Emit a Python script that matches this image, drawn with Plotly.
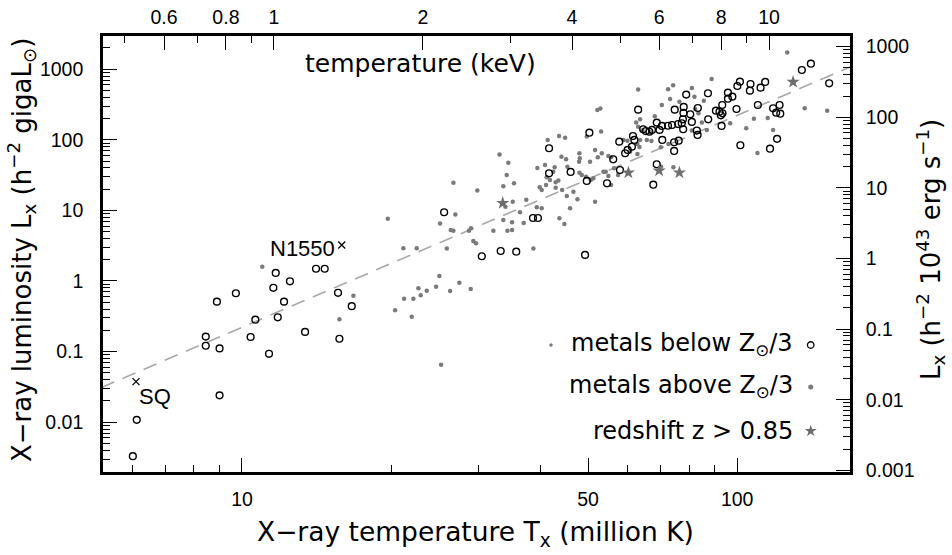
import math
import plotly.graph_objects as go

# ---- data: (temperature in million K, luminosity in h^-2 gigaL_sun)
open_pts = [
    (6.02, 0.0033), (6.13, 0.0108), (8.45, 0.163), (8.45, 0.121), (8.90, 0.51), (9.01, 0.111),
    (9.01, 0.024), (9.72, 0.67), (10.41, 0.161), (10.64, 0.283), (11.34, 0.093), (11.57, 0.80),
    (11.70, 1.30), (12.16, 0.51), (11.81, 0.306), (12.50, 0.99), (13.41, 0.19), (14.11, 1.49),
    (14.69, 1.49), (15.63, 0.68), (15.73, 0.152), (16.66, 0.44), (25.6, 9.4), (30.5, 2.24),
    (33.3, 2.66), (35.8, 2.60), (38.7, 7.8), (39.6, 7.8), (41.7, 75.8), (41.7, 33.5),
    (49.3, 2.34), (46.1, 35.0), (49.7, 26.1), (50.3, 126), (54.6, 24.2), (56.2, 52.9),
    (57.8, 94), (58.0, 37.3), (59.4, 64.4), (60.1, 71.7), (61.3, 79.9), (61.6, 113),
    (62.0, 99.4), (63.1, 267), (64.6, 141), (65.4, 133), (66.5, 130), (67.3, 138),
    (67.7, 23.1), (68.8, 45.0), (68.8, 175), (69.7, 138), (70.5, 157), (70.6, 99.4),
    (72.5, 158), (73.9, 162), (74.6, 92.2), (74.6, 69.4), (74.8, 267), (76.0, 167),
    (76.2, 97.1), (77.3, 171), (77.7, 195), (77.8, 141), (77.9, 240), (78.0, 292),
    (78.9, 436), (80.4, 230), (81.0, 179), (82.9, 135), (83.2, 117), (83.3, 282),
    (87.3, 456), (87.4, 195), (90.6, 258), (92.1, 250), (92.7, 222), (93.4, 237),
    (93.0, 157), (93.3, 311), (95.8, 465), (95.8, 382), (97.8, 408), (99.7, 273),
    (100.1, 578), (101.3, 665), (101.5, 83.6), (106.1, 496), (106.4, 617), (110.1, 311),
    (111.5, 547), (113.9, 659), (116.5, 74.8), (118.2, 279), (119.9, 242), (120.4, 103),
    (121.8, 311), (122.2, 234), (135.1, 974), (140.9, 1196), (153.4, 631),
]

dot_pts = [
    (10.99, 1.59), (15.73, 0.287), (16.79, 0.619), (19.70, 7.63), (20.38, 0.385), (21.18, 2.91),
    (21.25, 0.56), (22.02, 0.312), (22.19, 0.56), (22.54, 2.91), (22.71, 0.79), (22.96, 0.627),
    (23.61, 0.729), (24.66, 0.83), (25.04, 1.18), (25.12, 6.52), (25.24, 0.065), (25.92, 2.89),
    (26.32, 0.722), (26.40, 5.28), (26.73, 24.7), (26.73, 5.16), (26.97, 8.75), (27.48, 0.946),
    (28.74, 5.16), (28.97, 0.77), (29.01, 5.58), (29.32, 3.69), (29.69, 3.42), (29.87, 19.1),
    (32.19, 5.16), (33.12, 61.9), (33.71, 21.9), (33.71, 7.31), (34.03, 11.3), (34.25, 31.7),
    (34.36, 5.16), (34.51, 47.4), (35.11, 6.78), (35.11, 5.28), (35.22, 13.3), (35.43, 24.2),
    (36.43, 9.4), (37.06, 6.63), (37.51, 14.2), (38.77, 2.89), (39.38, 11.1), (39.49, 39.9),
    (39.93, 21.2), (40.30, 19.5), (40.30, 10.7), (40.92, 44.0), (41.11, 22.9), (41.24, 29.4),
    (41.44, 99.4), (41.88, 27.0), (42.53, 35.3), (43.0, 25.0), (43.0, 21.0), (43.55, 26.4),
    (43.69, 113), (43.75, 7.73), (44.93, 107), (42.80, 40.8), (44.78, 6.42), (44.17, 57.6),
    (44.31, 19.5), (45.13, 52.9), (45.29, 16.0), (45.41, 41.6), (45.98, 10.7), (46.70, 18.4),
    (47.58, 14.4), (47.95, 49.0), (48.02, 64.4), (48.02, 34.2), (48.11, 54.7), (48.56, 31.7),
    (49.53, 30.0), (49.70, 111), (50.46, 49.0), (50.63, 27.0), (51.25, 28.5), (51.65, 71.7),
    (51.65, 13.3), (52.21, 264), (52.94, 278), (52.31, 56.5), (53.12, 131), (53.29, 64.4),
    (53.69, 35.3), (54.28, 35.3), (54.95, 59.0), (54.95, 30.7), (55.64, 56.5), (55.64, 22.9),
    (56.42, 39.5), (57.48, 31.7), (58.94, 99.4), (60.03, 97.1), (60.78, 67.8), (62.52, 175),
    (62.89, 87.2), (62.89, 62.9), (63.10, 153), (63.10, 516), (63.48, 79.1), (63.68, 195),
    (63.68, 99.4), (64.37, 135), (65.70, 99.4), (66.71, 128), (67.12, 96.2), (68.18, 215),
    (70.12, 78.3), (70.22, 41.6), (70.45, 311), (72.54, 519), (72.64, 87.2), (73.21, 378),
    (74.24, 592), (74.34, 40.8), (76.45, 347), (81.01, 542), (81.01, 135), (81.98, 408),
    (82.26, 273), (83.53, 237), (84.86, 175), (85.64, 358), (86.85, 138), (88.81, 726),
    (96.80, 171), (104.3, 146), (108.1, 199), (109.9, 65.0), (115.3, 204), (118.2, 138),
    (126.2, 1724), (136.9, 279), (152.0, 258),
]

star_pts = [(33.62, 12.7), (60.30, 34.2), (69.57, 36.5), (76.45, 34.2), (129.7, 659)]

cross_names = ["SQ", "N1550"]
cross_pts = [(6.11, 0.0375), (15.9, 3.24)]

fit_T = [5.2, 170.0]
fit_L = [0.031, 1090.0]

# ---- axis definitions
mk_ticks = [10, 50, 100]
mk_minor = [6, 7, 8, 9, 20, 30, 40, 60, 70, 80, 90]
kev_ticks = [0.6, 0.8, 1, 2, 4, 6, 8, 10]
kev_labels = ["0.6", "0.8", "1", "2", "4", "6", "8", "10"]
kev_minor = [0.5, 0.7, 0.9, 3, 5, 7, 9]
lum_ticks = [0.01, 0.1, 1, 10, 100, 1000]
lum_labels = ["0.01", "0.1", "1", "10", "100", "1000"]
erg_ticks = [0.001, 0.01, 0.1, 1, 10, 100, 1000]
erg_labels = ["0.001", "0.01", "0.1", "1", "10", "100", "1000"]

MK_PER_KEV = 11.6
E43_PER_GIGALSUN = 0.48
T_RANGE = [5.24, 169.0]
L_RANGE = [0.00197, 2950.0]

legend_rows = ["metals below Z<sub>⊙</sub>/3", "metals above Z<sub>⊙</sub>/3", "redshift z > 0.85"]

# ---- styling
TICKFONT = dict(family="Liberation Sans, Arial, sans-serif", size=19.5, color="black")
LABFONT = "DejaVu Sans, sans-serif"
GRAY_DOT = "#7a7a7a"
STAR_COL = "#6e6e6e"


def minors(lo, hi):
    out = []
    for e in range(lo, hi + 1):
        for k in range(2, 10):
            out.append(k * 10 ** e)
    return out


lx = [math.log10(v) for v in T_RANGE]
ly = [math.log10(v) for v in L_RANGE]
lx_kev = [v - math.log10(MK_PER_KEV) for v in lx]
ly_erg = [v + math.log10(E43_PER_GIGALSUN) for v in ly]

fig = go.Figure()

fig.add_trace(go.Scatter(
    x=fit_T, y=fit_L, mode="lines",
    line=dict(color="#a8a8a8", width=1.6, dash="14px,9px"), hoverinfo="skip"))

fig.add_trace(go.Scatter(
    x=[p[0] for p in dot_pts], y=[p[1] for p in dot_pts], mode="markers",
    marker=dict(symbol="circle", size=4.5, color=GRAY_DOT, line=dict(width=0))))

fig.add_trace(go.Scatter(
    x=[p[0] for p in open_pts], y=[p[1] for p in open_pts], mode="markers",
    marker=dict(symbol="circle-open", size=6.8, color="black", line=dict(width=1.4, color="black"))))

fig.add_trace(go.Scatter(
    x=[p[0] for p in star_pts], y=[p[1] for p in star_pts], mode="markers",
    marker=dict(symbol="star", size=10, color=STAR_COL, line=dict(width=0))))

fig.add_trace(go.Scatter(
    x=[p[0] for p in cross_pts], y=[p[1] for p in cross_pts], mode="markers",
    marker=dict(symbol="x-thin-open", size=7, color="black", line=dict(width=1.3, color="black"))))

# invisible traces so that the secondary / minor-tick axes get drawn
for xa, ya, xr, yr in [("x2", "y2", lx_kev, ly_erg), ("x4", "y4", lx, ly), ("x5", "y5", lx_kev, ly_erg)]:
    fig.add_trace(go.Scatter(
        x=[10 ** xr[0], 10 ** xr[1]], y=[10 ** yr[0], 10 ** yr[1]],
        xaxis=xa, yaxis=ya, mode="markers", marker=dict(opacity=0), hoverinfo="skip"))

# legend symbols on a hidden unit axis pair
leg_y = [0.2913, 0.195, 0.094]
fig.add_trace(go.Scatter(x=[0.5997], y=[leg_y[0]], xaxis="x3", yaxis="y3", mode="markers",
                         marker=dict(symbol="circle", size=3.5, color=GRAY_DOT)))
fig.add_trace(go.Scatter(x=[0.9474], y=[leg_y[0]], xaxis="x3", yaxis="y3", mode="markers",
                         marker=dict(symbol="circle-open", size=6.5, color="black",
                                     line=dict(width=1.3, color="black"))))
fig.add_trace(go.Scatter(x=[0.9474], y=[leg_y[1]], xaxis="x3", yaxis="y3", mode="markers",
                         marker=dict(symbol="circle", size=5, color=GRAY_DOT)))
fig.add_trace(go.Scatter(x=[0.9474], y=[leg_y[2]], xaxis="x3", yaxis="y3", mode="markers",
                         marker=dict(symbol="star", size=9, color=STAR_COL)))

ax_common = dict(type="log", showgrid=False, zeroline=False, showline=True, linewidth=2.6,
                 linecolor="black", ticks="inside", ticklen=14, tickwidth=1.3, tickcolor="black",
                 tickfont=TICKFONT, tickmode="array", automargin=False)

minor_common = dict(type="log", showgrid=False, zeroline=False, showline=False,
                    ticks="inside", ticklen=7, tickwidth=1.3, tickcolor="black",
                    showticklabels=False, tickmode="array", automargin=False)

fig.update_layout(
    width=952, height=555, autosize=False,
    margin=dict(l=103, r=102, t=36, b=83),
    paper_bgcolor="white", plot_bgcolor="white", showlegend=False,
    xaxis=dict(ax_common, range=lx, tickvals=mk_ticks, ticktext=[str(v) for v in mk_ticks],
               ticklabelstandoff=8, anchor="y"),
    xaxis2=dict(ax_common, overlaying="x", side="top", anchor="y2", range=lx_kev,
                tickvals=kev_ticks, ticktext=kev_labels, ticklabelstandoff=1),
    yaxis=dict(ax_common, range=ly, tickvals=lum_ticks, ticktext=lum_labels,
               ticklabelstandoff=13, anchor="x"),
    yaxis2=dict(ax_common, overlaying="y", side="right", anchor="x2", range=ly_erg,
                tickvals=erg_ticks, ticktext=erg_labels, ticklabelstandoff=9),
    xaxis3=dict(overlaying="x", range=[0, 1], visible=False, automargin=False),
    yaxis3=dict(overlaying="y", range=[0, 1], visible=False, automargin=False),
    # minor ticks
    xaxis4=dict(minor_common, overlaying="x", side="bottom", anchor="y4", range=lx, tickvals=mk_minor),
    yaxis4=dict(minor_common, overlaying="y", side="left", anchor="x4", range=ly, tickvals=minors(-3, 3)),
    xaxis5=dict(minor_common, overlaying="x", side="top", anchor="y5", range=lx_kev, tickvals=kev_minor),
    yaxis5=dict(minor_common, overlaying="y", side="right", anchor="x5", range=ly_erg,
                tickvals=minors(-3, 3)),
)

ann = []
# axis titles
ann.append(dict(text="X−ray temperature T<sub>x</sub> (million K)", xref="paper", yref="paper",
                x=0.4993, y=-0.14, xanchor="center", yanchor="middle", showarrow=False,
                font=dict(family=LABFONT, size=26.5, color="black")))
ann.append(dict(text="X−ray luminosity L<sub>x</sub> (h<sup>−2</sup> gigaL<sub>⊙</sub>)",
                xref="paper", yref="paper", x=-0.1098, y=0.509, xanchor="center", yanchor="middle",
                textangle=-90, showarrow=False, font=dict(family=LABFONT, size=26, color="black")))
ann.append(dict(text="L<sub>x</sub> (h<sup>−2</sup> 10<sup>43</sup> erg s<sup>−1</sup>)",
                xref="paper", yref="paper", x=1.1071, y=0.509, xanchor="center", yanchor="middle",
                textangle=-90, showarrow=False, font=dict(family=LABFONT, size=26, color="black")))
ann.append(dict(text="temperature (keV)", xref="paper", yref="paper", x=0.4257, y=0.938,
                xanchor="center", yanchor="middle", showarrow=False,
                font=dict(family=LABFONT, size=25, color="black")))
# legend texts
for txt, yy in zip(legend_rows, leg_y):
    ann.append(dict(text=txt, xref="paper", yref="paper", x=0.926, y=yy, xanchor="right",
                    yanchor="middle", showarrow=False,
                    font=dict(family=LABFONT, size=24, color="black")))
# object labels
ann.append(dict(text=cross_names[0], xref="x", yref="y", x=math.log10(6.14), y=math.log10(0.0229),
                xanchor="left", yanchor="middle", showarrow=False,
                font=dict(family="Liberation Sans, Arial", size=22, color="black")))
ann.append(dict(text=cross_names[1], xref="x", yref="y", x=math.log10(15.55), y=math.log10(2.93),
                xanchor="right", yanchor="middle", showarrow=False,
                font=dict(family="Liberation Sans, Arial", size=22, color="black")))
fig.update_layout(annotations=ann)

fig.write_html("out.html", config={"displayModeBar": False},
               post_script="document.body.style.margin='0';document.body.style.padding='0';")
